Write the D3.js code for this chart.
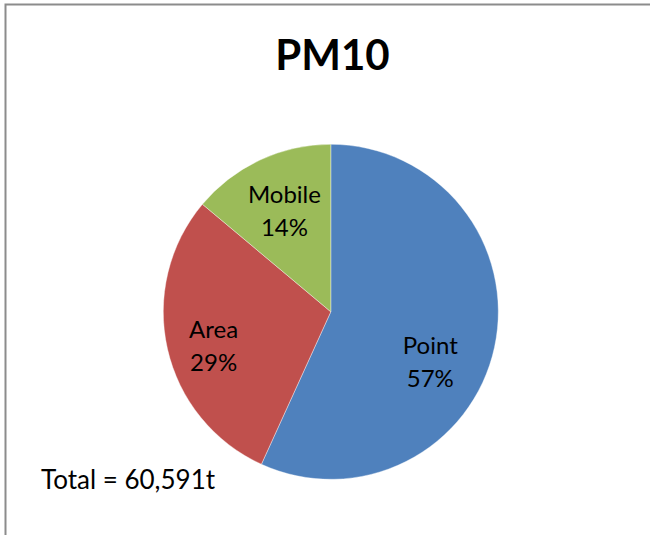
<!DOCTYPE html>
<html>
<head>
<meta charset="utf-8">
<script src="https://cdn.jsdelivr.net/npm/d3@7"></script>
<style>
  html, body { margin: 0; padding: 0; background: #fff; }
  svg { display: block; }
</style>
</head>
<body>
<svg id="chart" width="650" height="535"></svg>
<script>
// ---- data ----
const titleText = "PM10";
const categories = ["Point", "Area", "Mobile"];
const shares = [56.8, 29.3, 13.9];           // percent of total
const percentLabels = ["57%", "29%", "14%"];
const colors = ["#4F81BD", "#C0504D", "#9BBB59"];
const totalText = "Total = 60,591t";

// ---- layout ----
const svg = d3.select("#chart");
const W = 650, H = 535;
const cx = 330.8, cy = 311.8, R = 167.5, labelR = 112;
const font = "Lato, 'Open Sans', sans-serif";

// frame (extends beyond the visible area on right/bottom)
svg.append("rect")
  .attr("x", 5.5).attr("y", 4.5)
  .attr("width", 700).attr("height", 600)
  .attr("fill", "none")
  .attr("stroke", "#8c8c8c")
  .attr("stroke-width", 2);

// title
svg.append("text")
  .attr("x", 332.5).attr("y", 69.5)
  .attr("text-anchor", "middle")
  .attr("font-family", font)
  .attr("font-weight", "bold")
  .attr("font-size", 42)
  .attr("fill", "#000")
  .text(titleText);

const data = categories.map((c, i) => ({ name: c, value: shares[i], pct: percentLabels[i], color: colors[i] }));

const pie = d3.pie().value(d => d.value).sort(null).startAngle(0).endAngle(2 * Math.PI);
const arcs = pie(data);
const arc = d3.arc().innerRadius(0).outerRadius(R);
const labelArc = d3.arc().innerRadius(labelR).outerRadius(labelR);

const g = svg.append("g").attr("transform", `translate(${cx},${cy})`);

g.selectAll("path.slice")
  .data(arcs)
  .join("path")
  .attr("class", "slice")
  .attr("d", arc)
  .attr("fill", d => d.data.color)
  .attr("stroke", "#ffffff")
  .attr("stroke-opacity", 0.5)
  .attr("stroke-width", 0.75);

// Excel best-fit nudges for label placement
const nudge = { Point: [-10, 26], Area: [-8, 9], Mobile: [1, 1] };

const labels = g.selectAll("text.lbl")
  .data(arcs)
  .join("text")
  .attr("class", "lbl")
  .attr("text-anchor", "middle")
  .attr("font-family", font)
  .attr("font-size", 24)
  .attr("fill", "#000")
  .attr("transform", d => {
    const [x, y] = labelArc.centroid(d);
    const n = nudge[d.data.name] || [0, 0];
    return `translate(${x + n[0]},${y + n[1]})`;
  });

labels.append("tspan")
  .attr("x", 0).attr("y", -8)
  .text(d => d.data.name);
labels.append("tspan")
  .attr("x", 0).attr("y", 25)
  .text(d => d.data.pct);

// total annotation
svg.append("text")
  .attr("x", 41).attr("y", 488.5)
  .attr("font-family", font)
  .attr("font-size", 26)
  .attr("fill", "#000")
  .text(totalText);
</script>
</body>
</html>
